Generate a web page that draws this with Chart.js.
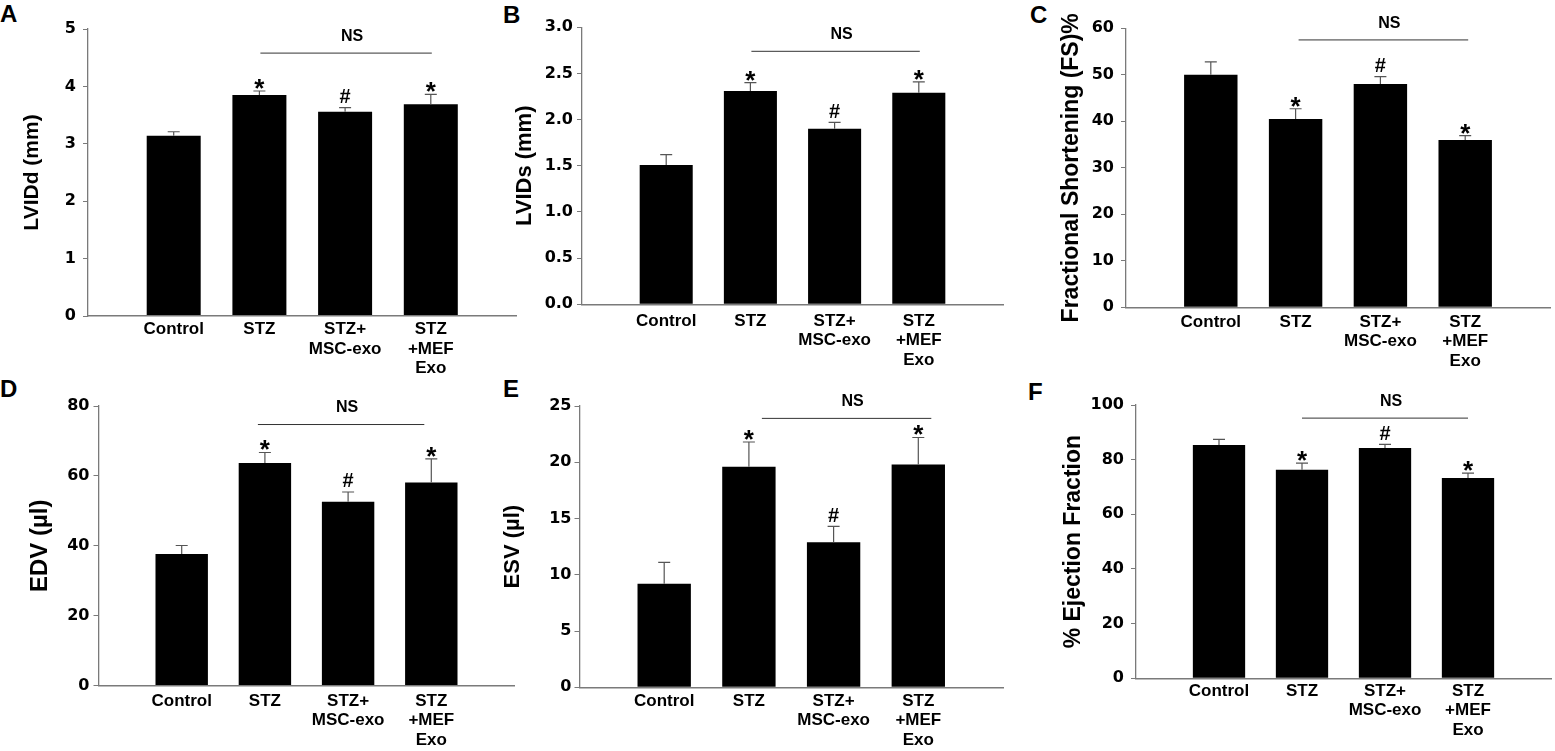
<!DOCTYPE html>
<html>
<head>
<meta charset="utf-8">
<script src="https://cdn.jsdelivr.net/npm/chart.js@4.4.1/dist/chart.umd.min.js"></script>
<style>
body { margin: 0; background: #fff; width: 1555px; height: 751px; position: relative; overflow: hidden; }
canvas { position: absolute; }
.tag { position: absolute; font: bold 24px "Liberation Sans", Arial, sans-serif; line-height: 1; color: #000; }
</style>
</head>
<body>
<div class="tag" style="left:0px;top:2px">A</div>
<div class="tag" style="left:503px;top:3px">B</div>
<div class="tag" style="left:1030px;top:3px">C</div>
<div class="tag" style="left:0px;top:377px">D</div>
<div class="tag" style="left:503px;top:377px">E</div>
<div class="tag" style="left:1028px;top:380px">F</div>
<script>
// groups on the x axis (multi-line labels)
var groups = [['Control'], ['STZ'], ['STZ+', 'MSC-exo'], ['STZ', '+MEF', 'Exo']];
// significance marks above each group
var marks = ['', '*', '#', '*'];

// means and SEM
var lvidd = [3.14, 3.85, 3.56, 3.69];
var lviddSem = [0.07, 0.07, 0.07, 0.17];
var lvids = [1.51, 2.31, 1.90, 2.29];
var lvidsSem = [0.11, 0.09, 0.07, 0.12];
var fs = [50.0, 40.5, 48.0, 36.0];
var fsSem = [2.8, 2.2, 1.6, 0.9];
var edv = [37.7, 63.7, 52.6, 58.1];
var edvSem = [2.4, 3.0, 2.8, 6.8];
var esv = [9.2, 19.6, 12.9, 19.8];
var esvSem = [1.9, 2.2, 1.4, 2.4];
var ef = [85.4, 76.3, 84.3, 73.3];
var efSem = [2.0, 2.4, 1.3, 1.8];

// y axis ranges and the level of the "NS" bracket
var yMax = [5, 3, 60, 80, 25, 100];
var yStep = [1, 0.5, 10, 20, 5, 20];
var nsLevel = [4.58, 2.74, 57.5, 74.7, 23.9, 95.2];

var titles = ['LVIDd (mm)', 'LVIDs (mm)', 'Fractional Shortening (FS)%', 'EDV (µl)', 'ESV (µl)', '% Ejection Fraction'];
var series = [lvidd, lvids, fs, edv, esv, ef];
var sems = [lviddSem, lvidsSem, fsSem, edvSem, esvSem, efSem];

// page layout of each panel: canvas box and plot area
var layout = [
  {cx: 0, cy: 0, w: 520, h: 400, L: 88, T: 29, R: 520, B: 316, titleX: 32, titleSize: 21, xPad: 3.5, yPad: 7, nsShift: 1},
  {cx: 490, cy: 0, w: 530, h: 400, L: 582, T: 27.3, R: 1003, B: 304.3, titleX: 525, titleSize: 22, xPad: 7, yPad: 4, nsShift: 1},
  {cx: 1030, cy: 0, w: 525, h: 400, L: 1126, T: 28.3, R: 1551, B: 307.3, titleX: 1071.7, titleSize: 23, xPad: 5, yPad: 7, nsShift: 3},
  {cx: 0, cy: 375, w: 520, h: 376, L: 98.5, T: 406, R: 520, B: 685.7, titleX: 40, titleSize: 24, xPad: 5.5, yPad: 4, nsShift: -7},
  {cx: 490, cy: 375, w: 530, h: 376, L: 579.5, T: 406, R: 1003, B: 687.3, titleX: 513, titleSize: 22, xPad: 4, yPad: 3, nsShift: 13},
  {cx: 1030, cy: 375, w: 525, h: 376, L: 1136, T: 405, R: 1551, B: 678.3, titleX: 1073.3, titleSize: 23, xPad: 3, yPad: 7, nsShift: 0}
];

var AXIS = '#7a7a7a';
var SANS = '"Liberation Sans", Arial, sans-serif';

// error whiskers, * / # marks and the NS bracket
var statsPlugin = {
  id: 'stats',
  afterDatasetsDraw: function (chart, args, opts) {
    var ctx = chart.ctx;
    var y = chart.scales.y;
    var meta = chart.getDatasetMeta(0);
    var ds = chart.data.datasets[0];
    ctx.save();
    ctx.strokeStyle = '#555';
    ctx.lineWidth = 1.2;
    ctx.fillStyle = '#000';
    ctx.textAlign = 'center';
    meta.data.forEach(function (bar, i) {
      var v = ds.data[i];
      if (v == null) return;
      var top = y.getPixelForValue(v + ds.sem[i]);
      ctx.beginPath();
      ctx.moveTo(bar.x, bar.y);
      ctx.lineTo(bar.x, top);
      ctx.moveTo(bar.x - 6, top);
      ctx.lineTo(bar.x + 6, top);
      ctx.stroke();
      var m = marks[i - 1];
      ctx.textBaseline = 'alphabetic';
      if (m === '*') {
        ctx.font = 'bold 26px ' + SANS;
        ctx.fillText(m, bar.x, top + 5.9);
      } else if (m === '#') {
        ctx.font = 'bold 20px ' + SANS;
        ctx.fillText(m, bar.x, top - 4.8);
      }
    });
    var x1 = meta.data[2].x + opts.shift;
    var x2 = meta.data[4].x + opts.shift;
    var ly = y.getPixelForValue(opts.level);
    ctx.strokeStyle = '#333';
    ctx.lineWidth = 1;
    ctx.beginPath();
    ctx.moveTo(x1, ly);
    ctx.lineTo(x2, ly);
    ctx.stroke();
    ctx.font = 'bold 16px ' + SANS;
    ctx.textBaseline = 'middle';
    ctx.fillText('NS', (x1 + x2) / 2 + 6, ly - 16.5);
    ctx.restore();
  }
};

function makePanel(k) {
  var g = layout[k];
  var cv = document.createElement('canvas');
  cv.width = g.w;
  cv.height = g.h;
  cv.style.left = g.cx + 'px';
  cv.style.top = g.cy + 'px';
  cv.style.width = g.w + 'px';
  cv.style.height = g.h + 'px';
  document.body.appendChild(cv);

  var lh = 1.2 * g.titleSize;
  var padLeft = g.titleX - g.cx - lh / 2;
  var yWidth = (g.L - g.cx) - padLeft;
  var xHeight = (g.cy + g.h) - g.B;
  var step = yStep[k];

  new Chart(cv, {
    type: 'bar',
    data: {
      labels: [''].concat(groups, ['']),
      datasets: [{
        data: [null].concat(series[k], [null]),
        sem: [null].concat(sems[k], [null]),
        backgroundColor: '#000',
        borderWidth: 0,
        categoryPercentage: 0.63,
        barPercentage: 1
      }]
    },
    options: {
      responsive: false,
      animation: false,
      events: [],
      layout: {
        padding: {top: g.T - g.cy, right: g.cx + g.w - g.R, bottom: 0, left: padLeft}
      },
      plugins: {
        legend: {display: false},
        tooltip: {enabled: false},
        stats: {level: nsLevel[k], shift: g.nsShift}
      },
      scales: {
        x: {
          offset: false,
          grid: {display: false, drawTicks: false},
          border: {display: true, color: AXIS, width: 1.5, z: 1},
          ticks: {
            color: '#000',
            autoSkip: false,
            maxRotation: 0,
            padding: g.xPad,
            font: {family: SANS, size: 17, weight: 'bold', lineHeight: 1.15}
          },
          afterFit: function (s) { s.height = xHeight; }
        },
        y: {
          min: 0,
          max: yMax[k],
          grid: {drawOnChartArea: false, drawTicks: true, tickLength: 5, color: AXIS},
          border: {display: true, color: AXIS, width: 1.3},
          ticks: {
            stepSize: step,
            color: '#000',
            padding: g.yPad,
            font: {family: '"DejaVu Sans", sans-serif', size: 16, weight: 'bold'},
            callback: function (v) { return step < 1 ? v.toFixed(1) : v; }
          },
          title: {
            display: true,
            text: titles[k],
            color: '#000',
            padding: 0,
            font: {family: SANS, size: g.titleSize, weight: 'bold', lineHeight: 1.2}
          },
          afterFit: function (s) { s.width = yWidth; }
        }
      }
    },
    plugins: [statsPlugin]
  });
}

for (var k = 0; k < 6; k++) makePanel(k);
</script>
</body>
</html>
